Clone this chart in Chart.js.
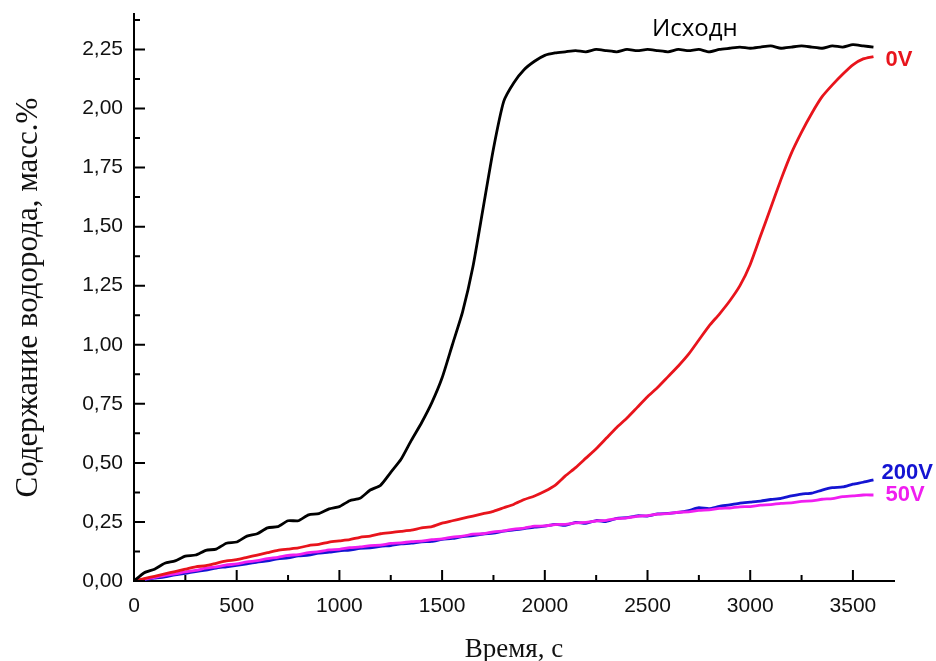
<!DOCTYPE html>
<html>
<head>
<meta charset="utf-8">
<script src="https://cdn.jsdelivr.net/npm/chart.js@4/dist/chart.umd.min.js"></script>
<style>
  html, body { margin: 0; padding: 0; background: #fff; }
  #wrap { width: 936px; height: 661px; }
</style>
</head>
<body>
<div id="wrap"><canvas id="h2Graph"></canvas></div>
<script>
// time, s (every 50 s)
const timeSec = [];
for (let t = 0; t <= 3600; t += 50) timeSec.push(t);

// hydrogen content, wt.%
const initialH = [0.00,0.035,0.05,0.075,0.085,0.105,0.11,0.13,0.135,0.16,0.165,0.19,0.20,0.225,0.23,0.255,0.255,0.28,0.285,0.305,
  0.315,0.34,0.35,0.385,0.405,0.46,0.515,0.595,0.67,0.755,0.86,1.00,1.14,1.33,1.58,1.83,2.03,2.11,2.165,2.20,
  2.225,2.235,2.24,2.245,2.24,2.25,2.245,2.24,2.25,2.245,2.25,2.245,2.24,2.25,2.245,2.25,2.24,2.25,2.255,2.26,
  2.255,2.26,2.265,2.255,2.26,2.265,2.26,2.255,2.265,2.26,2.27,2.265,2.26];
const h0V = [0,0.01,0.02,0.03,0.04,0.05,0.06,0.065,0.075,0.085,0.09,0.10,0.11,0.12,0.13,0.135,0.14,0.15,0.155,0.165,
  0.17,0.175,0.185,0.19,0.20,0.205,0.21,0.215,0.225,0.23,0.245,0.255,0.265,0.275,0.285,0.295,0.31,0.325,0.345,0.36,
  0.38,0.405,0.445,0.48,0.52,0.56,0.605,0.65,0.69,0.735,0.78,0.82,0.865,0.91,0.96,1.02,1.08,1.13,1.185,1.25,
  1.34,1.46,1.58,1.70,1.81,1.90,1.98,2.05,2.10,2.145,2.185,2.21,2.22];
const h50V = [0,0.008,0.015,0.024,0.03,0.039,0.045,0.054,0.06,0.068,0.072,0.081,0.086,0.095,0.10,0.108,0.112,0.12,0.124,0.132,
  0.134,0.141,0.144,0.15,0.152,0.159,0.161,0.167,0.169,0.175,0.178,0.186,0.19,0.198,0.20,0.208,0.212,0.22,0.224,0.232,
  0.233,0.239,0.24,0.246,0.248,0.254,0.257,0.264,0.267,0.274,0.277,0.283,0.285,0.291,0.293,0.299,0.301,0.307,0.309,0.314,
  0.315,0.321,0.323,0.329,0.331,0.337,0.339,0.346,0.349,0.357,0.36,0.364,0.364];
const h200V = [0,0.006,0.012,0.018,0.026,0.032,0.04,0.046,0.055,0.06,0.066,0.073,0.08,0.085,0.094,0.098,0.106,0.11,0.118,0.122,
  0.128,0.131,0.138,0.14,0.147,0.15,0.157,0.16,0.166,0.168,0.176,0.18,0.188,0.192,0.199,0.203,0.211,0.216,0.222,0.228,
  0.232,0.24,0.236,0.248,0.244,0.256,0.252,0.265,0.268,0.276,0.275,0.284,0.286,0.29,0.298,0.31,0.306,0.316,0.322,0.33,
  0.334,0.338,0.345,0.35,0.36,0.368,0.372,0.385,0.395,0.398,0.41,0.418,0.428];

const seriesNames = ["Исходн", "0V", "50V", "200V"];
const seriesColors = ["#000000", "#e8141c", "#f01ef0", "#1414d2"];

const xMax = 3700;
const yMax = 2.4;
const xMajorTicks = [0, 500, 1000, 1500, 2000, 2500, 3000, 3500];
const xMinorTicks = [250, 750, 1250, 1750, 2250, 2750, 3250];
const yMajorTicks = [0, 0.25, 0.5, 0.75, 1, 1.25, 1.5, 1.75, 2, 2.25];
const yMinorTicks = [0.125, 0.375, 0.625, 0.875, 1.125, 1.375, 1.625, 1.875, 2.125, 2.375];

function pts(arr) {
  return arr.map((v, i) => ({ x: timeSec[i], y: v }));
}

// inward ticks like the original plot
const innerTicks = {
  id: "innerTicks",
  afterDraw(chart) {
    const c = chart.ctx, xs = chart.scales.x, ys = chart.scales.y;
    const bx = ys.right, by = xs.top;
    c.save();
    c.strokeStyle = "#000";
    c.lineWidth = 2;
    c.beginPath();
    xMajorTicks.forEach(v => { const p = xs.getPixelForValue(v); c.moveTo(p, by); c.lineTo(p, by - 11); });
    xMinorTicks.forEach(v => { const p = xs.getPixelForValue(v); c.moveTo(p, by); c.lineTo(p, by - 6); });
    yMajorTicks.forEach(v => { const p = ys.getPixelForValue(v); c.moveTo(bx, p); c.lineTo(bx + 11, p); });
    yMinorTicks.forEach(v => { const p = ys.getPixelForValue(v); c.moveTo(bx, p); c.lineTo(bx + 6, p); });
    c.stroke();
    c.restore();
  }
};

// curve labels
const curveLabels = {
  id: "curveLabels",
  afterDraw(chart) {
    const c = chart.ctx, xs = chart.scales.x, ys = chart.scales.y;
    c.save();
    c.textBaseline = "middle";
    // Исходн above the plateau
    c.fillStyle = "#000";
    c.font = "24px 'Open Sans'";
    c.textAlign = "center";
    c.fillText(seriesNames[0], xs.getPixelForValue(2730), ys.getPixelForValue(2.25) - 20);
    c.textAlign = "left";
    c.font = "bold 22px 'Liberation Sans'";
    const last = timeSec.length - 1;
    const ends = [[h0V, 1, 12, 3], [h200V, 3, 8, -7], [h50V, 2, 12, 0]];
    ends.forEach(([arr, k, dx, dy]) => {
      c.fillStyle = seriesColors[k];
      c.fillText(seriesNames[k], xs.getPixelForValue(timeSec[last]) + dx, ys.getPixelForValue(arr[last]) + dy);
    });
    c.restore();
  }
};

// axis ends between round ticks: cut the range after ticks are built
const clipAxis = (maxVal) => (scale) => {
  scale.max = maxVal;
  scale.ticks = scale.ticks.filter(t => t.value <= maxVal + 1e-9);
};

const ctx = document.getElementById("h2Graph").getContext("2d");
const myChart = new Chart(ctx, {
  type: "line",
  data: {
    datasets: [
      { label: seriesNames[0], data: pts(initialH), borderColor: seriesColors[0] },
      { label: seriesNames[1], data: pts(h0V), borderColor: seriesColors[1] },
      { label: seriesNames[2], data: pts(h50V), borderColor: seriesColors[2] },
      { label: seriesNames[3], data: pts(h200V), borderColor: seriesColors[3] },
    ],
  },
  options: {
    responsive: true,
    maintainAspectRatio: false,
    animation: false,
    layout: { padding: { left: 0, right: 42, top: 14, bottom: 0 } },
    elements: {
      line: { borderWidth: 2.8, tension: 0.2, fill: false },
      point: { radius: 0 },
    },
    plugins: {
      legend: { display: false },
      tooltip: { enabled: false },
    },
    scales: {
      x: {
        type: "linear",
        min: 0,
        grid: { display: false, drawTicks: false },
        border: { display: true, color: "#000", width: 2 },
        ticks: {
          stepSize: 500,
          autoSkip: false,
          padding: 13,
          color: "#111",
          font: { family: "'Liberation Sans'", size: 21 },
          maxRotation: 0,
          callback: (v) => String(v),
        },
        afterBuildTicks: clipAxis(xMax),
        afterFit: (s) => { s.height = 80; },
        title: {
          display: true,
          text: "Время, с",
          color: "#111",
          font: { family: "'Liberation Serif'", size: 27, lineHeight: 1 },
          padding: { top: 0, bottom: -2 },
        },
      },
      y: {
        min: 0,
        grid: { display: false, drawTicks: false },
        border: { display: true, color: "#000", width: 2 },
        ticks: {
          stepSize: 0.25,
          autoSkip: false,
          padding: 11,
          color: "#111",
          font: { family: "'Liberation Sans'", size: 21 },
          callback: (v) => v.toFixed(2).replace(".", ","),
        },
        afterBuildTicks: clipAxis(yMax),
        afterFit: (s) => { s.width = 134; s.paddingTop = 0; },
        title: {
          display: true,
          text: "Содержание водорода, масс.%",
          color: "#111",
          font: { family: "'Liberation Serif'", size: 31 },
          padding: { top: 10, bottom: 0 },
        },
      },
    },
  },
  plugins: [innerTicks, curveLabels],
});
</script>
</body>
</html>
